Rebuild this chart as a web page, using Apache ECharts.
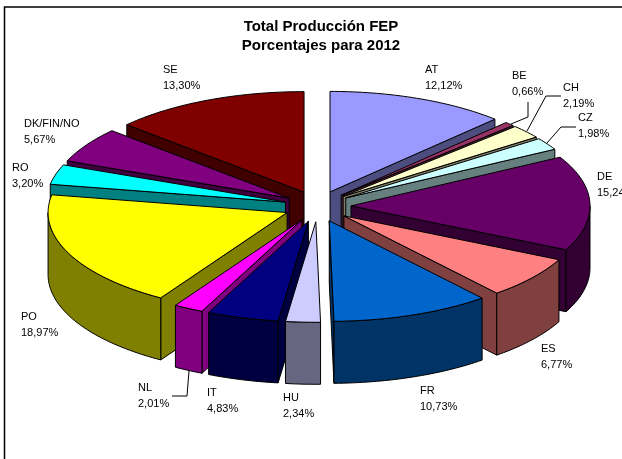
<!DOCTYPE html>
<html>
<head>
<meta charset="utf-8">
<style>html,body{margin:0;padding:0;background:#fff}#c{width:622px;height:459px}</style>
<script src="https://cdn.jsdelivr.net/npm/echarts@6/dist/echarts.min.js"></script>
</head>
<body>
<div id="c"></div>
<script>
// ---- data ----
const categories = ['AT','BE','CH','CZ','DE','ES','FR','HU','IT','NL','PO','RO','DK/FIN/NO','SE'];
const shares = [12.12,0.66,2.19,1.98,15.24,6.77,10.73,2.34,4.83,2.01,18.97,3.20,5.67,13.30];
const sliceColors = ['#9999FF','#993366','#FFFFCC','#CCFFFF','#660066','#FF8080','#0066CC','#CCCCFF','#000080','#FF00FF','#FFFF00','#00FFFF','#800080','#800000'];

// ---- layout (not data) ----
const pie = {cx:317.6, cy:206.3, rx:239, ry:100.5, ex:33.4, ey:15.5, depth:62};
const labelAt = {
  'AT':[425,70],'BE':[512,76],'CH':[563,88],'CZ':[578,118],'DE':[597,177],'ES':[541,349],'FR':[420,391],
  'HU':[283,398],'IT':[207,393],'NL':[138,388],'PO':[21,317],'RO':[12,168],'DK/FIN/NO':[24,124],'SE':[163,70]
};
const leaders = [
  [[528,102],[528,117],[511,124]],
  [[561,96],[546,96],[527,131]],
  [[576,127],[561,127],[547,143]],
  [[172,396],[187,396],[189,371]]
];

// ---- geometry derived from the values ----
const total = shares.reduce((a,b)=>a+b,0);
let run = 0;
const slices = categories.map((name,i)=>{
  const a0 = run/total*2*Math.PI; run += shares[i];
  const a1 = run/total*2*Math.PI;
  return {name, value:shares[i], color:sliceColors[i], a0, a1, mid:(a0+a1)/2};
});
const order = slices.slice().sort((p,q)=>Math.abs(q.mid-Math.PI)-Math.abs(p.mid-Math.PI));
function half(hex){
  const n=parseInt(hex.slice(1),16);
  const f=v=>('0'+Math.round(v/2).toString(16)).slice(-2);
  return '#'+f(n>>16&255)+f(n>>8&255)+f(n&255);
}
function renderSlice(params){
  const s = order[params.dataIndex];
  const ax = pie.cx+pie.ex*Math.sin(s.mid), ay = pie.cy-pie.ey*Math.cos(s.mid);
  const rim = t=>[ax+pie.rx*Math.sin(t), ay-pie.ry*Math.cos(t)];
  const down = p=>[p[0],p[1]+pie.depth];
  const side = half(s.color);
  const line = {stroke:'#000',lineWidth:1,lineJoin:'round'};
  const poly = (pts,fill)=>({type:'polygon',silent:true,shape:{points:pts},style:Object.assign({fill},line)});
  const apex=[ax,ay], kids=[];
  const cut = t=>{const r=rim(t);kids.push(poly([apex,r,down(r),down(apex)],side));};
  if(Math.sin(s.a0)<0) cut(s.a0);
  if(Math.sin(s.a1)>0) cut(s.a1);
  const w0=Math.max(s.a0,Math.PI/2), w1=Math.min(s.a1,Math.PI*1.5);
  if(w1>w0){
    const arc=[]; const n=Math.max(2,Math.ceil((w1-w0)/0.02));
    for(let k=0;k<=n;k++) arc.push(rim(w0+(w1-w0)*k/n));
    kids.push(poly(arc.concat(arc.map(down).reverse()),side));
  }
  const top=[apex]; const n=Math.max(2,Math.ceil((s.a1-s.a0)/0.02));
  for(let k=0;k<=n;k++) top.push(rim(s.a0+(s.a1-s.a0)*k/n));
  kids.push(poly(top,s.color));
  return {type:'group',children:kids};
}
function renderLabel(params){
  const s = slices[params.dataIndex], p = labelAt[s.name];
  const txt=(t,y)=>({type:'text',silent:true,x:p[0],y,style:{text:t,fill:'#000',font:'11px "Liberation Sans", Arial, sans-serif',textAlign:'left',textVerticalAlign:'middle'}});
  return {type:'group',children:[txt(s.name,p[1]),txt(s.value.toFixed(2).replace('.',',')+'%',p[1]+16)]};
}

const chart = echarts.init(document.getElementById('c'),null,{renderer:'canvas'});
chart.setOption({
  animation:false,
  backgroundColor:'#fff',
  title:{
    text:'Total Producción FEP\nPorcentajes para 2012',
    left:321, top:14, textAlign:'center',padding:[3,0,3,0],
    textStyle:{fontFamily:'"Liberation Sans", Arial, sans-serif',fontSize:15,fontWeight:'bold',color:'#000',lineHeight:19}
  },
  graphic:[
    {type:'polyline',silent:true,z:-1,shape:{points:[[4.5,460],[4.5,7],[623,7]]},style:{stroke:'#000',lineWidth:1.5,fill:null}}
  ].concat(leaders.map(pts=>({type:'polyline',silent:true,z:10,shape:{points:pts},style:{stroke:'#000',lineWidth:1,fill:null}}))),
  series:[
    {type:'custom',coordinateSystem:'none',renderItem:renderSlice,z:2,
     data:order.map(s=>({name:s.name,value:s.value}))},
    {type:'custom',coordinateSystem:'none',renderItem:renderLabel,z:5,
     data:slices.map(s=>({name:s.name,value:s.value}))}
  ]
});
</script>
</body>
</html>
